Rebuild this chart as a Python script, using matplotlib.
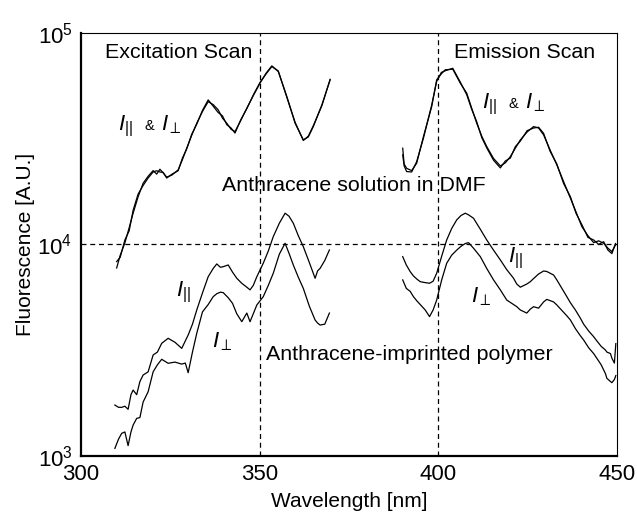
import matplotlib
matplotlib.use("Agg")
import matplotlib.pyplot as plt

plt.rcParams['font.family'] = ['Liberation Sans', 'DejaVu Sans']
plt.rcParams['mathtext.fontset'] = 'custom'
plt.rcParams['mathtext.rm'] = 'Liberation Sans'
plt.rcParams['mathtext.it'] = 'Liberation Sans:italic'

# excitation scan, anthracene solution in DMF
exc_sol_wl = [310, 311, 312.3, 313.5, 314.6, 316, 317.4, 318.8, 320.2, 321.2,
              322.1, 323, 324, 325.5, 327.2, 328.4, 329.6, 331, 332.4, 334,
              335.6, 337, 338.4, 339.6, 340.8, 342, 343.1, 344.7, 346.4, 348.3,
              350.1, 351.8, 353.4, 355.2, 357.6, 359.9, 362.2, 363.6, 365, 367.4,
              369.7]
exc_sol_par = [7740, 8900, 10170, 12000, 14040, 16800, 19460, 21000, 22330, 21500,
               22670, 21800, 20790, 21300, 22500, 25200, 28500, 32800, 37400, 42500,
               47300, 45800, 43250, 39500, 37400, 35000, 34150, 38500, 44050, 50800,
               57850, 64500, 69800, 65600, 50000, 37400, 31200, 32200, 36060, 45700,
               59950]
exc_sol_perp = [8300, 8700, 10500, 11600, 14500, 17300, 19000, 20600, 22000, 22300,
                22000, 21900, 20600, 21500, 22300, 25600, 28300, 33200, 37000, 43000,
                48200, 45000, 42000, 40500, 36800, 35500, 33600, 38800, 43800, 51200,
                58300, 64000, 69300, 66100, 49500, 37800, 31000, 32500, 36400, 45300,
                60300]

# excitation scan, imprinted polymer
exc_pol_wl = [309.5, 310.5, 311.4, 312.3, 313.2, 314.0, 314.6, 315.6, 316.5, 317.4,
              318.8, 320.2, 321.4, 322.6, 324.4, 326.3, 328.2, 329.2, 330.0, 331.2,
              332.4, 334.0, 335.6, 337.0, 338.0, 339.0, 339.8, 341.2, 342.4, 343.6,
              345.0, 346.4, 347.3, 348.2, 349.2, 351.0, 352.4, 353.8, 355.5, 357.1,
              358.2, 359.4, 360.8, 362.2, 363.9, 365.5, 366.2, 366.9, 368.2, 369.5]
exc_pol_par = [1742, 1700, 1699, 1720, 1663, 1950, 2051, 1950, 2250, 2415,
               2500, 3003, 3100, 3411, 3601, 3450, 3228, 3500, 3733, 4200,
               4900, 5900, 7040, 7700, 8090, 7800, 7850, 8000, 7400, 6920,
               6550, 6280, 6100, 6400, 7040, 8150, 9300, 10890, 12600, 14050,
               13600, 12600, 11000, 9760, 8200, 6920, 7500, 7710, 8400, 9420]
exc_pol_perp = [1087, 1200, 1280, 1300, 1120, 1300, 1400, 1507, 1520, 1800,
                2013, 2500, 2700, 2866, 2744, 2780, 2720, 2750, 2477, 3100,
                3802, 4800, 5200, 5666, 5850, 5950, 5920, 5600, 5270, 4700,
                4315, 4740, 4315, 4700, 5176, 5666, 6400, 7310, 9000, 10130,
                9085, 8000, 7000, 6200, 5100, 4395, 4250, 4160, 4200, 4740]

# emission scan, anthracene solution in DMF
emi_sol_wl = [390.0, 390.4, 391.1, 392.5, 393.9, 395.8, 398.1, 399.5, 400.8, 401.9,
              404.0, 406.1, 407.9, 409.3, 410.7, 412.1, 413.5, 415.4, 417.3, 418.7,
              420.1, 421.5, 422.9, 424.8, 426.6, 428.0, 429.4, 431.2, 433.1, 435.0,
              436.9, 438.5, 440.1, 441.8, 443.4, 444.8, 446.2, 447.4, 448.5, 449.5]
emi_sol_par = [28500, 24000, 22900, 22330, 24200, 32350, 44800, 59950, 64000, 66900,
               67300, 57850, 51870, 44000, 37400, 32500, 29000, 25500, 23500, 24300,
               26000, 28500, 31200, 34000, 36060, 35500, 32950, 28000, 23770, 19800,
               16540, 14200, 12140, 11000, 10200, 10400, 10130, 9600, 9250, 9940]
emi_sol_perp = [26500, 23500, 22100, 22000, 24600, 31800, 45500, 59000, 65000, 66200,
                68000, 58500, 51000, 43500, 38000, 32000, 28600, 25000, 23000, 24800,
                25600, 29000, 30800, 34500, 35500, 35800, 33500, 27600, 24000, 19400,
                16800, 14000, 12400, 10800, 10500, 10000, 10300, 9400, 9050, 10100]

# emission scan, imprinted polymer
emi_pol_wl = [390.0, 391.0, 392.1, 393.0, 394.0, 394.9, 396.3, 397.5, 398.5, 399.5,
              400.9, 402.3, 403.7, 405.1, 406.3, 407.5, 408.4, 409.8, 411.7, 413.5,
              415.4, 417.3, 419.1, 421.0, 421.9, 422.9, 424.7, 425.7, 426.6, 428.0,
              429.4, 430.3, 432.2, 433.1, 435.9, 436.9, 438.3, 439.7, 440.6, 442.0,
              443.4, 444.3, 445.5, 446.7, 447.1, 448.1, 448.5, 449.2, 449.6]
emi_pol_par = [8760, 8000, 7435, 7100, 6850, 6670, 6600, 6555, 6700, 7310,
               8800, 10500, 11900, 13060, 13700, 14050, 13800, 13300, 11800, 10500,
               9400, 8450, 7600, 6920, 6500, 6280, 6500, 6670, 6900, 7250,
               7490, 7450, 7170, 6800, 5666, 5300, 4900, 4477, 4200, 3900,
               3665, 3500, 3300, 3170, 3100, 3050, 2900, 2750, 3400]
emi_pol_perp = [6800, 6200, 6000, 5666, 5400, 5200, 4900, 4560, 4900, 5460,
                6800, 8150, 8900, 9400, 9800, 10100, 10200, 9600, 8760, 7700,
                6800, 6100, 5460, 5200, 5080, 4900, 4740, 4950, 5080, 5000,
                5350, 5500, 5350, 5176, 4600, 4395, 4000, 3700, 3535, 3250,
                3050, 2897, 2700, 2450, 2330, 2250, 2222, 2300, 2400]

fig = plt.figure(figsize=(6.37, 5.13), dpi=100)
ax = fig.add_axes([0.127, 0.111, 0.842, 0.825])

lw = 0.9
for wl, vals in [(exc_sol_wl, exc_sol_par), (exc_sol_wl, exc_sol_perp),
                 (exc_pol_wl, exc_pol_par), (exc_pol_wl, exc_pol_perp),
                 (emi_sol_wl, emi_sol_par), (emi_sol_wl, emi_sol_perp),
                 (emi_pol_wl, emi_pol_par), (emi_pol_wl, emi_pol_perp)]:
    ax.plot(wl, vals, color='black', lw=lw)

ax.set_yscale('log')
ax.set_xlim(300, 450)
ax.set_ylim(1e3, 1e5)

dash = (0, (4, 3))
ax.axvline(350, color='black', lw=0.9, ls=dash)
ax.axvline(400, color='black', lw=0.9, ls=dash)
ax.axhline(1e4, color='black', lw=0.9, ls=dash)

ax.set_xticks([300, 350, 400, 450])
ax.set_yticks([1e3, 1e4, 1e5])
ax.minorticks_off()
ax.tick_params(length=0, labelsize=16, pad=6)
ax.spines['left'].set_linewidth(1.6)
ax.spines['bottom'].set_linewidth(1.6)
ax.spines['top'].set_linewidth(0.8)
ax.spines['right'].set_linewidth(0.8)

ax.set_xlabel('Wavelength [nm]', fontsize=15, labelpad=5)
ax.set_ylabel('Fluorescence [A.U.]', fontsize=15, labelpad=2)

fs = 15.4
ax.text(327.4, 80400, 'Excitation Scan', fontsize=fs, ha='center', va='center')
ax.text(424.0, 80400, 'Emission Scan', fontsize=fs, ha='center', va='center')
ax.text(376.4, 18900, 'Anthracene solution in DMF', fontsize=fs, ha='center', va='center')
ax.text(391.8, 3035, 'Anthracene-imprinted polymer', fontsize=fs, ha='center', va='center')

lab = 16
# I|| & I_perp labels, solution
ax.text(310.4, 34750, r'$I_{||}$', fontsize=lab, va='baseline')
ax.text(317.9, 34750, '&', fontsize=10.5, va='baseline')
ax.text(322.5, 34750, r'$I_{\perp}$', fontsize=lab, va='baseline')
ax.text(412.1, 44050, r'$I_{||}$', fontsize=lab, va='baseline')
ax.text(419.6, 44050, '&', fontsize=10.5, va='baseline')
ax.text(424.1, 44050, r'$I_{\perp}$', fontsize=lab, va='baseline')
# polymer labels
ax.text(328.8, 5900, r'$I_{||}$', fontsize=lab, ha='center', va='center')
ax.text(339.6, 3470, r'$I_{\perp}$', fontsize=lab, ha='center', va='center')
ax.text(421.5, 8610, r'$I_{||}$', fontsize=lab, ha='center', va='center')
ax.text(412.1, 5660, r'$I_{\perp}$', fontsize=lab, ha='center', va='center')

fig.savefig('out.png', dpi=100)
